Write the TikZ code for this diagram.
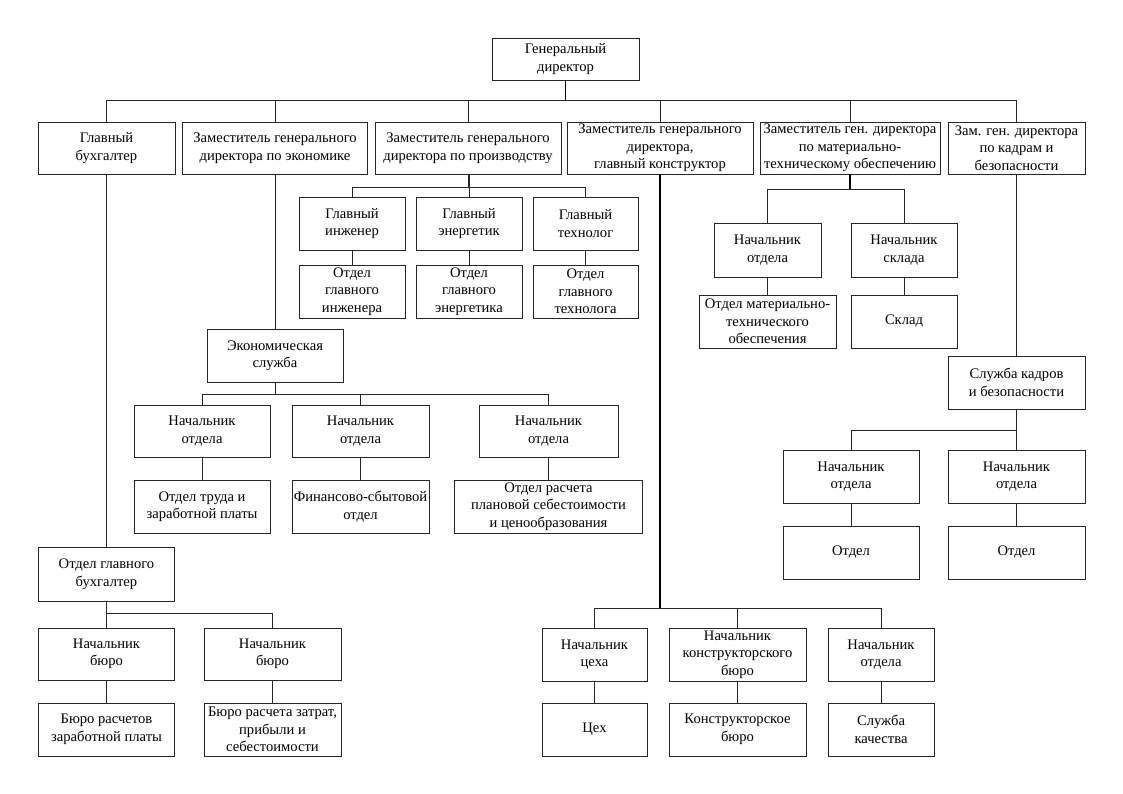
\documentclass[tikz,border=0pt]{standalone}
\usepackage{fontspec}
\setmainfont{Liberation Serif}
\newfontfamily\boxfont{Liberation Serif}
\begin{document}
\begin{tikzpicture}[x=1pt,y=-1pt,
  box/.style={draw=black!85,line width=0.8pt,inner sep=0pt,align=center,
    font=\boxfont\fontsize{14.6}{17.5}\selectfont},
  link/.style={draw=black!85,line width=0.8pt},
  thick link/.style={draw=black,line width=1.6pt}]
\useasboundingbox (0,0) rectangle (1123,794);

% top
\node[box,minimum width=147pt,minimum height=42pt] (dir) at (565.5,59) {Генеральный\\директор};

% level 1
\node[box,minimum width=137pt,minimum height=52pt] (b1) at (106.5,148) {Главный\\бухгалтер};
\node[box,minimum width=185pt,minimum height=52pt] (b2) at (275,148) {Заместитель генерального\\директора по экономике};
\node[box,minimum width=186pt,minimum height=52pt] (b3) at (468,148) {Заместитель генерального\\директора по производству};
\node[box,minimum width=186pt,minimum height=52pt] (b4) at (660,148) {Заместитель генерального\\директора,\\главный конструктор};
\node[box,minimum width=180pt,minimum height=52pt] (b5) at (850,148) {Заместитель ген. директора\\по материально-\\техническому обеспечению};
\node[box,minimum width=137pt,minimum height=52pt] (b6) at (1016.5,148) {Зам. ген. директора\\по кадрам и\\безопасности};

\coordinate (bus1) at (566,100);
\draw[thick link] (dir.south) -- (dir.south |- bus1);
\draw[link] (b1.north) |- (b6.north |- bus1) -- (b6.north);
\foreach \n in {b2,b3,b4,b5} \draw[link] (\n.north) -- (\n.north |- bus1);

% production
\node[box,minimum width=106pt,minimum height=53pt] (gi) at (352,223.5) {Главный\\инженер};
\node[box,minimum width=106pt,minimum height=53pt] (ge) at (469,223.5) {Главный\\энергетик};
\node[box,minimum width=105pt,minimum height=53pt] (gt) at (585.5,223.5) {Главный\\технолог};
\node[box,minimum width=106pt,minimum height=53pt] (goi) at (352,291.5) {Отдел\\главного\\инженера};
\node[box,minimum width=106pt,minimum height=53pt] (goe) at (469,291.5) {Отдел\\главного\\энергетика};
\node[box,minimum width=105pt,minimum height=53pt] (got) at (585.5,291.5) {Отдел\\главного\\технолога};
\coordinate (bus2) at (468,187);
\draw[link] (b3.south -| bus2) -- (bus2);
\draw[link] ([xshift=1.6pt]b3.south -| bus2) -- ([xshift=1.6pt]bus2);
\draw[link] (gi.north) |- (gt.north |- bus2) -- (gt.north);
\draw[link] (ge.north) -- (ge.north |- bus2);
\draw[link] (gi.south) -- (goi.north);
\draw[link] (ge.south) -- (goe.north);
\draw[link] (gt.south) -- (got.north);

% economy
\node[box,minimum width=136pt,minimum height=53pt] (es) at (275,355.5) {Экономическая\\служба};
\draw[link] (b2.south) -- (es.north);
\node[box,minimum width=136pt,minimum height=52pt] (en1) at (202,431) {Начальник\\отдела};
\node[box,minimum width=137pt,minimum height=52pt] (en2) at (360.5,431) {Начальник\\отдела};
\node[box,minimum width=139pt,minimum height=52pt] (en3) at (548.5,431) {Начальник\\отдела};
\node[box,minimum width=136pt,minimum height=53pt] (eo1) at (202,506.5) {Отдел труда и\\заработной платы};
\node[box,minimum width=137pt,minimum height=53pt] (eo2) at (360.5,506.5) {Финансово-сбытовой\\отдел};
\node[box,minimum width=188pt,minimum height=53pt] (eo3) at (548.5,506.5) {Отдел расчета\\плановой себестоимости\\и ценообразования};
\coordinate (bus3) at (275,394);
\draw[link] (es.south) -- (bus3);
\draw[link] (en1.north) |- (en3.north |- bus3) -- (en3.north);
\draw[link] (en2.north) -- (en2.north |- bus3);
\draw[link] (en1.south) -- (eo1.north);
\draw[link] (en2.south) -- (eo2.north);
\draw[link] (en3.south) -- (eo3.north);

% accountant
\node[box,minimum width=136pt,minimum height=54pt] (ab) at (106.5,574) {Отдел главного\\бухгалтер};
\draw[link] (b1.south) -- (ab.north);
\node[box,minimum width=136pt,minimum height=52pt] (an1) at (106.5,654) {Начальник\\бюро};
\node[box,minimum width=137pt,minimum height=52pt] (an2) at (272.5,654) {Начальник\\бюро};
\node[box,minimum width=136pt,minimum height=53pt] (ao1) at (106.5,729.5) {Бюро расчетов\\заработной платы};
\node[box,minimum width=137pt,minimum height=53pt] (ao2) at (272.5,729.5) {Бюро расчета затрат,\\прибыли и\\себестоимости};
\coordinate (bus4) at (106.5,613);
\draw[link] (ab.south) -- (an1.north);
\draw[link] (bus4) -| (an2.north);
\draw[link] (an1.south) -- (ao1.north);
\draw[link] (an2.south) -- (ao2.north);

% constructor
\node[box,minimum width=105pt,minimum height=53pt] (cn1) at (594.5,654.5) {Начальник\\цеха};
\node[box,minimum width=137pt,minimum height=53pt] (cn2) at (737.5,654.5) {Начальник\\конструкторского\\бюро};
\node[box,minimum width=106pt,minimum height=53pt] (cn3) at (881,654.5) {Начальник\\отдела};
\node[box,minimum width=105pt,minimum height=53pt] (co1) at (594.5,729.5) {Цех};
\node[box,minimum width=137pt,minimum height=53pt] (co2) at (737.5,729.5) {Конструкторское\\бюро};
\node[box,minimum width=106pt,minimum height=53pt] (co3) at (881,729.5) {Служба\\качества};
\coordinate (bus5) at (660,608);
\draw[thick link] (b4.south) -- (bus5);
\draw[link] (cn1.north) |- (cn3.north |- bus5) -- (cn3.north);
\draw[link] (cn2.north) -- (cn2.north |- bus5);
\draw[link] (cn1.south) -- (co1.north);
\draw[link] (cn2.south) -- (co2.north);
\draw[link] (cn3.south) -- (co3.north);

% MTO
\node[box,minimum width=107pt,minimum height=54pt] (mn) at (767.5,250) {Начальник\\отдела};
\node[box,minimum width=106pt,minimum height=54pt] (ms) at (904,250) {Начальник\\склада};
\node[box,minimum width=137pt,minimum height=53pt] (mo) at (767.5,321.5) {Отдел материально-\\технического\\обеспечения};
\node[box,minimum width=106pt,minimum height=53pt] (msk) at (904,321.5) {Склад};
\coordinate (bus6) at (850,189);
\draw[thick link] (b5.south) -- (bus6);
\draw[link] (mn.north) |- (ms.north |- bus6) -- (ms.north);
\draw[link] (mn.south) -- (mo.north);
\draw[link] (ms.south) -- (msk.north);

% personnel
\node[box,minimum width=137pt,minimum height=53pt] (sk) at (1016.5,382.5) {Служба кадров\\и безопасности};
\draw[link] (b6.south) -- (sk.north);
\node[box,minimum width=136pt,minimum height=53pt] (pn1) at (851,476.5) {Начальник\\отдела};
\node[box,minimum width=137pt,minimum height=53pt] (pn2) at (1016.5,476.5) {Начальник\\отдела};
\node[box,minimum width=136pt,minimum height=53pt] (po1) at (851,552.5) {Отдел};
\node[box,minimum width=137pt,minimum height=53pt] (po2) at (1016.5,552.5) {Отдел};
\coordinate (bus7) at (1016.5,430);
\draw[link] (sk.south) -- (pn2.north);
\draw[link] (bus7) -| (pn1.north);
\draw[link] (pn1.south) -- (po1.north);
\draw[link] (pn2.south) -- (po2.north);
\end{tikzpicture}
\end{document}
